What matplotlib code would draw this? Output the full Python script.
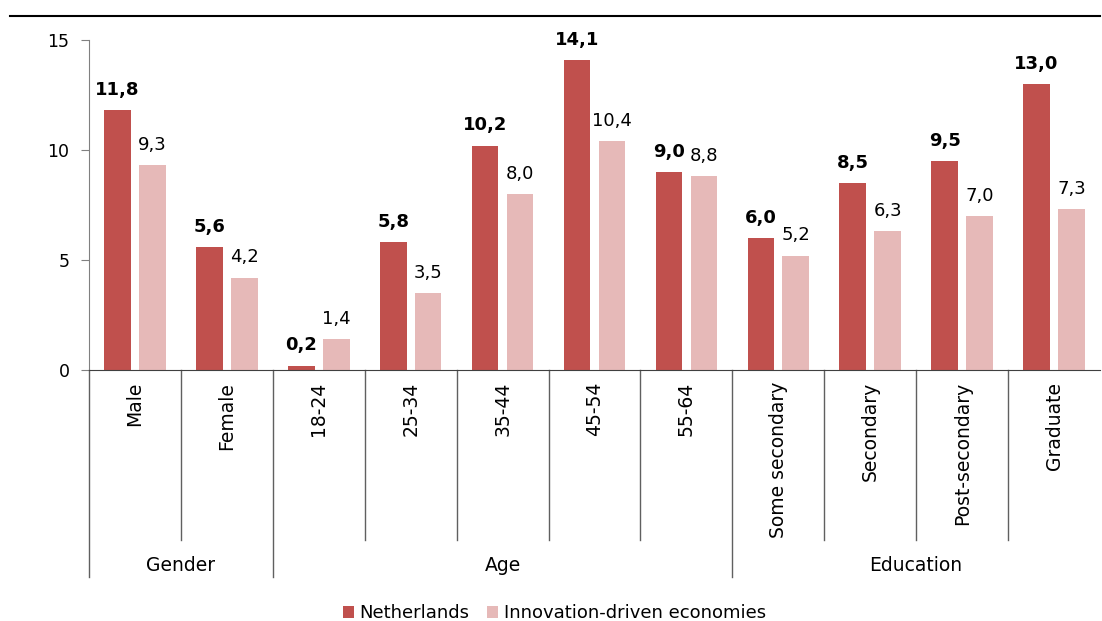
import numpy as np
import matplotlib
matplotlib.use('Agg')
import matplotlib.pyplot as plt
from matplotlib.lines import Line2D

# Data
categories = ['Male', 'Female', '18-24', '25-34', '35-44', '45-54', '55-64',
              'Some secondary', 'Secondary', 'Post-secondary', 'Graduate']
netherlands = [11.8, 5.6, 0.2, 5.8, 10.2, 14.1, 9.0, 6.0, 8.5, 9.5, 13.0]
innovation = [9.3, 4.2, 1.4, 3.5, 8.0, 10.4, 8.8, 5.2, 6.3, 7.0, 7.3]
groups = ['Gender', 'Age', 'Education']
group_sizes = [2, 5, 4]

DARK = '#C0504D'
LIGHT = '#E6B9B8'

plt.rcParams['font.family'] = 'DejaVu Sans'

fig = plt.figure(figsize=(11.02, 6.21), dpi=100)
ax = fig.add_axes([89 / 1102, 1 - 370 / 621, 1011 / 1102, 330 / 621])

x = np.arange(len(categories))
w = 0.29
b1 = ax.bar(x - 0.19, netherlands, w, color=DARK, label='Netherlands')
b2 = ax.bar(x + 0.19, innovation, w, color=LIGHT, label='Innovation-driven economies')

def fmt(v):
    return '{:.1f}'.format(v).replace('.', ',')

for rect, v in zip(b1, netherlands):
    ax.annotate(fmt(v), (rect.get_x() + rect.get_width() / 2, v),
                xytext=(0, 11), textcoords='offset points',
                ha='center', va='baseline', fontsize=13, fontweight='bold')
for rect, v in zip(b2, innovation):
    ax.annotate(fmt(v), (rect.get_x() + rect.get_width() / 2, v),
                xytext=(0, 11), textcoords='offset points',
                ha='center', va='baseline', fontsize=13)

ax.set_xlim(-0.5, len(categories) - 0.5)
ax.set_ylim(0, 15)
ax.set_yticks([0, 5, 10, 15])
ax.tick_params(axis='y', direction='out', length=6, color='#808080',
               labelsize=12.5, pad=8)
ax.set_xticks([])

for s in ['top', 'right']:
    ax.spines[s].set_visible(False)
ax.spines['left'].set_color('#808080')
ax.spines['bottom'].set_color('#404040')

trans = ax.get_xaxis_transform()

# category labels
for xi, lab in zip(x, categories):
    ax.text(xi, -0.036, lab, transform=trans, rotation=90,
            ha='center', va='top', fontsize=13.5)

# separators
bounds = np.cumsum([0] + group_sizes) - 0.5
for b in np.arange(-0.5, len(categories) - 0.5, 1.0):
    bottom = -0.627 if b in bounds else -0.515
    ax.plot([b, b], [0, bottom], transform=trans, color='#606060',
            lw=1, clip_on=False)

# group labels
start = 0
for g, n in zip(groups, group_sizes):
    ax.text(start + (n - 1) / 2, -0.591, g, transform=trans,
            ha='center', va='center', fontsize=13.5)
    start += n

# top line
fig.add_artist(Line2D([10 / 1102, 1100 / 1102], [1 - 16 / 621] * 2,
                      color='black', lw=1.5))

fig.legend(handles=[b1, b2], loc='lower center', bbox_to_anchor=(0.503, -0.028),
           ncol=2, frameon=False, fontsize=13, handlelength=0.6,
           handleheight=0.6, handletextpad=0.3, columnspacing=1.0)

fig.savefig('out.png', dpi=100)
